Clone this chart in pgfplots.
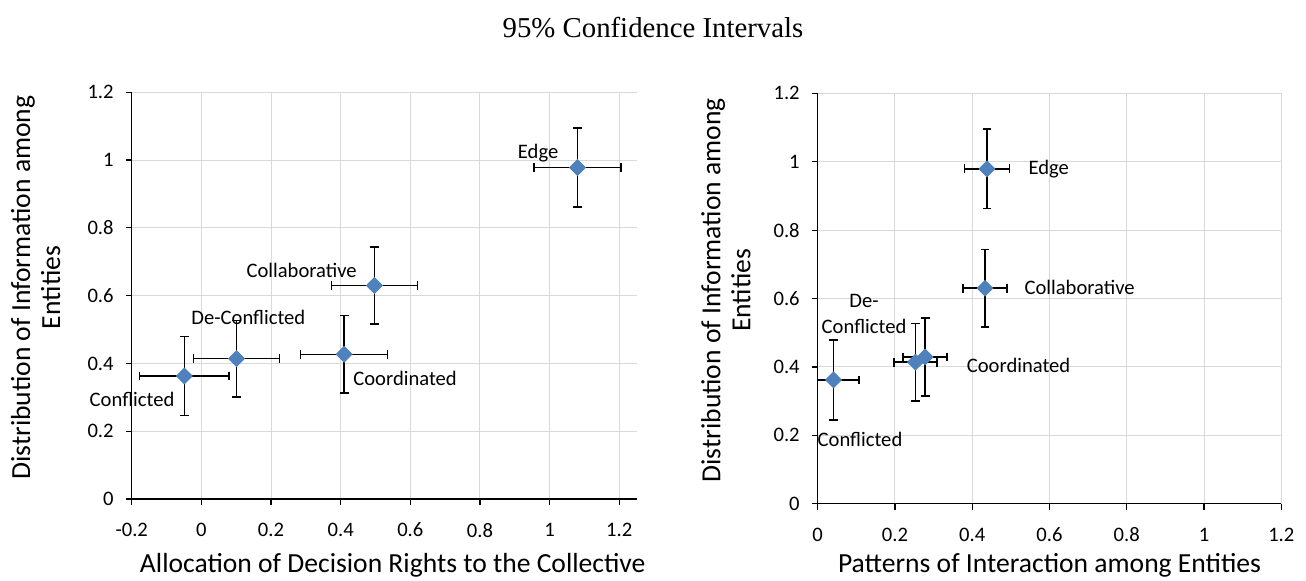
\documentclass[border=0pt]{standalone}
\usepackage{pgfplots}
\pgfplotsset{compat=1.18}
\usepackage{fontspec}
\setmainfont{Carlito}
\newfontfamily\titlefont{Liberation Serif}

\definecolor{markblue}{HTML}{4F81BD}
\definecolor{gridgray}{HTML}{D9D9D9}

% left panel: decision rights vs information distribution
\pgfplotstableread{
x      y      ex     ey
-0.049 0.363  0.128  0.116
0.101  0.414  0.124  0.113
0.410  0.427  0.125  0.114
0.497  0.630  0.124  0.113
1.080  0.978  0.125  0.116
}\leftdata

% right panel: interaction vs information distribution
\pgfplotstableread{
x      y      ex     ey
0.041  0.362  0.066  0.117
0.253  0.414  0.056  0.113
0.278  0.429  0.057  0.114
0.433  0.630  0.057  0.113
0.438  0.979  0.058  0.116
}\rightdata

\pgfplotsset{
  ciplot/.style={
    scale only axis,
    clip mode=individual,
    axis lines*=left,
    tick align=outside,
    major tick length=3pt,
    grid=major,
    grid style={gridgray, line width=0.5pt},
    axis line style={black, line width=0.6pt},
    tick style={black, line width=0.6pt},
    ymin=0, ymax=1.2,
    ytick={0,0.2,0.4,0.6,0.8,1,1.2},
    /pgf/number format/assume math mode=true,
    tick label style={font=\fontsize{10.3}{12}\selectfont},
    xticklabel style={yshift=-5.5pt},
    yticklabel style={xshift=-2.5pt},
    label style={font=\fontsize{13.8}{15}\selectfont},
    ylabel={Distribution of Information among\\Entities},
  },
  ciseries/.style={
    only marks,
    mark=square*, mark size=2.8pt,
    mark options={rotate=45, fill=markblue, draw=markblue},
    error bars/.cd,
      x dir=both, x explicit,
      y dir=both, y explicit,
      error bar style={black, line width=0.75pt},
      error mark=-,
      error mark options={rotate=90, black, mark size=2.2pt, line width=0.75pt},
  },
}
\tikzset{lbl/.style={font=\fontsize{10.3}{13}\selectfont, anchor=center, align=center}}

\begin{document}
\begin{tikzpicture}
\path[use as bounding box] (0,0) rectangle (653pt,290pt);

\node[font=\titlefont\fontsize{14.4}{17}\selectfont] at (326.5pt,276pt) {95\% Confidence Intervals};

\begin{axis}[ciplot,
    at={(65.85pt,40.5pt)}, anchor=south west,
    width=252.5pt, height=203.35pt,
    xmin=-0.2, xmax=1.25,
    xtick={-0.2,0,0.2,0.4,0.6,0.8,1,1.2},
    xlabel={Allocation of Decision Rights to the Collective},
    xlabel style={at={(axis description cs:0.517,-0.162)}, anchor=center},
    ylabel style={align=center, at={(axis description cs:-0.19,0.52)}, anchor=center},
  ]
  \addplot[ciseries] table[x=x, y=y, x error=ex, y error=ey] {\leftdata};
  \node[lbl] at (axis cs:0.967,1.021) {Edge};
  \node[lbl] at (axis cs:0.288,0.675) {Collaborative};
  \node[lbl] at (axis cs:0.135,0.537) {De-Conflicted};
  \node[lbl] at (axis cs:0.585,0.357) {Coordinated};
  \node[lbl] at (axis cs:-0.199,0.295) {Conflicted};
\end{axis}

\begin{axis}[ciplot,
    at={(408.85pt,38.15pt)}, anchor=south west,
    width=231.8pt, height=205.2pt,
    xmin=0, xmax=1.2,
    xtick={0,0.2,0.4,0.6,0.8,1,1.2},
    xlabel={Patterns of Interaction among Entities},
    xlabel style={at={(axis description cs:0.5,-0.149)}, anchor=center},
    ylabel style={align=center, at={(axis description cs:-0.198,0.52)}, anchor=center},
  ]
  \addplot[ciseries] table[x=x, y=y, x error=ex, y error=ey] {\rightdata};
  \node[lbl] at (axis cs:0.598,0.977) {Edge};
  \node[lbl] at (axis cs:0.678,0.631) {Collaborative};
  \node[lbl] at (axis cs:0.120,0.555) {De-\\Conflicted};
  \node[lbl] at (axis cs:0.520,0.403) {Coordinated};
  \node[lbl] at (axis cs:0.1095,0.189) {Conflicted};
\end{axis}
\end{tikzpicture}
\end{document}
